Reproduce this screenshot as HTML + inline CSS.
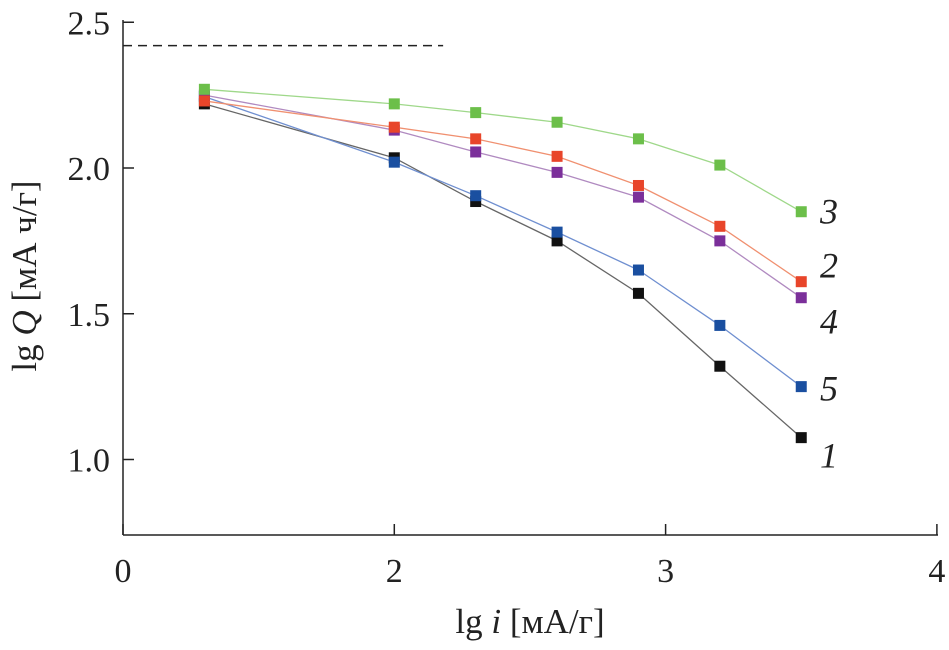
<!DOCTYPE html>
<html><head><meta charset="utf-8"><style>
body{margin:0;background:#fff}
svg text{font-family:"Liberation Serif",serif;fill:#222}
</style></head><body>
<svg id="chart" width="949" height="645"></svg>
<script>
const xTickValues=[1,2,3,4];
const xTickLabels=["0","2","3","4"];
const yTickValues=[1.0,1.5,2.0,2.5];
const yTickLabels=["1.0","1.5","2.0","2.5"];
const xValues=[1.3,2,2.3,2.6,2.9,3.2,3.5];
const s3=[2.27,2.22,2.19,2.157,2.10,2.01,1.85];
const s2=[2.23,2.14,2.10,2.04,1.94,1.80,1.61];
const s4=[2.25,2.13,2.055,1.985,1.90,1.75,1.555];
const s5=[2.245,2.02,1.905,1.78,1.65,1.46,1.25];
const s1=[2.22,2.035,1.885,1.75,1.57,1.32,1.075];
const seriesLabels=["3","2","4","5","1"];
const dashedY=2.42;
const dashedX=[1,2.18];

const NS="http://www.w3.org/2000/svg";
const svg=document.getElementById('chart');
const X=v=>123+(v-1)*271.3;
const Y=v=>168-(v-2)*291.5;
function mk(t,a){const e=document.createElementNS(NS,t);for(const k in a)e.setAttribute(k,a[k]);svg.appendChild(e);return e;}
let e;
e=mk('line',{x1:123,y1:20,x2:123,y2:535,stroke:'#222','stroke-width':1.5});


e=mk('line',{x1:123,y1:535,x2:938,y2:535,stroke:'#222','stroke-width':1.5});


xTickValues.forEach((v,i)=>{
 e=mk('line',{x1:X(v),y1:535,x2:X(v),y2:524,stroke:'#222','stroke-width':1.5});
 
 
 e=mk('text',{x:X(v),y:582,'font-size':34,'text-anchor':'middle'});e.textContent=xTickLabels[i];
 
 
});
yTickValues.forEach((v,i)=>{
 e=mk('line',{x1:123,y1:Y(v),x2:134,y2:Y(v),stroke:'#222','stroke-width':1.5});
 
 
 e=mk('text',{x:110,y:Y(v)+12,'font-size':34,'text-anchor':'end'});e.textContent=yTickLabels[i];
 
 
});
e=mk('line',{x1:X(dashedX[0]),y1:Y(dashedY),x2:X(dashedX[1]),y2:Y(dashedY),stroke:'#222','stroke-width':1.5,'stroke-dasharray':'9,6'});


const series=[[s1,'#111','#666'],[s5,'#1a4fa0','#6f8fd0'],[s4,'#7b2f9a','#b08ac0'],[s2,'#e8452a','#f09070'],[s3,'#6cbf4a','#9fd88a']];
series.forEach(([d,c,lc])=>{
 e=mk('polyline',{points:d.map((v,i)=>X(xValues[i])+','+Y(v)).join(' '),fill:'none',stroke:lc,'stroke-width':1.3});
 
 
 d.forEach((v,i)=>{
  e=mk('rect',{x:X(xValues[i])-5.5,y:Y(v)-5.5,width:11,height:11,fill:c});
  
  
 });
});
const lastVals=[s3,s2,s4,s5,s1];
const labelShift=[0,-16,24,2,18];
lastVals.forEach((d,i)=>{
 e=mk('text',{x:820,y:Y(d[d.length-1])+12+labelShift[i],'font-size':36,'font-style':'italic'});e.textContent=seriesLabels[i];
 
 
});
e=mk('text',{x:530,y:633,'font-size':35,'text-anchor':'middle'});
e.innerHTML='lg <tspan font-style="italic">i</tspan> [мА/г]';


e=mk('text',{x:0,y:0,'font-size':35,'text-anchor':'middle',transform:'translate(36,276) rotate(-90)'});
e.innerHTML='lg <tspan font-style="italic">Q</tspan> [мА ч/г]';


</script>
</body></html>
